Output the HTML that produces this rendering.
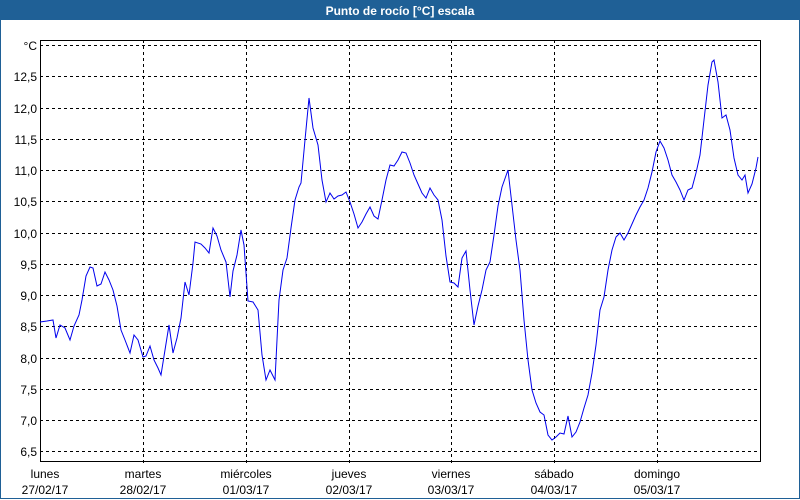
<!DOCTYPE html>
<html><head><meta charset="utf-8"><style>
html,body{margin:0;padding:0;background:#fff}
svg{display:block}
text{font-family:"Liberation Sans","DejaVu Sans",sans-serif;font-size:12px;fill:#000}
</style></head><body>
<svg width="800" height="500" viewBox="0 0 800 500">
<rect x="0" y="0" width="800" height="500" fill="#fff"/>
<rect x="0.5" y="0.5" width="799" height="498" fill="none" stroke="#1f6096" stroke-width="1"/>
<rect x="0" y="0" width="800" height="20" fill="#1f6096"/>
<text x="400" y="15" text-anchor="middle" style="fill:#fff;font-weight:bold;font-size:12px">Punto de rocío [°C] escala</text>
<g stroke="#000" stroke-dasharray="3,3" stroke-width="1">
<line x1="40" y1="45.5" x2="760" y2="45.5"/>
<line x1="40" y1="76.5" x2="760" y2="76.5"/>
<line x1="40" y1="108.5" x2="760" y2="108.5"/>
<line x1="40" y1="139.5" x2="760" y2="139.5"/>
<line x1="40" y1="170.5" x2="760" y2="170.5"/>
<line x1="40" y1="201.5" x2="760" y2="201.5"/>
<line x1="40" y1="233.5" x2="760" y2="233.5"/>
<line x1="40" y1="264.5" x2="760" y2="264.5"/>
<line x1="40" y1="295.5" x2="760" y2="295.5"/>
<line x1="40" y1="326.5" x2="760" y2="326.5"/>
<line x1="40" y1="358.5" x2="760" y2="358.5"/>
<line x1="40" y1="389.5" x2="760" y2="389.5"/>
<line x1="40" y1="420.5" x2="760" y2="420.5"/>
<line x1="40" y1="451.5" x2="760" y2="451.5"/>
<line x1="143.5" y1="40" x2="143.5" y2="466"/>
<line x1="246.5" y1="40" x2="246.5" y2="466"/>
<line x1="349.5" y1="40" x2="349.5" y2="466"/>
<line x1="451.5" y1="40" x2="451.5" y2="466"/>
<line x1="554.5" y1="40" x2="554.5" y2="466"/>
<line x1="657.5" y1="40" x2="657.5" y2="466"/>
</g>
<rect x="40.5" y="40.5" width="720" height="421" fill="none" stroke="#000"/>
<g text-anchor="end">
<text x="37" y="50">°C</text>
<text x="37" y="81">12,5</text>
<text x="37" y="113">12,0</text>
<text x="37" y="144">11,5</text>
<text x="37" y="175">11,0</text>
<text x="37" y="206">10,5</text>
<text x="37" y="238">10,0</text>
<text x="37" y="269">9,5</text>
<text x="37" y="300">9,0</text>
<text x="37" y="331">8,5</text>
<text x="37" y="363">8,0</text>
<text x="37" y="394">7,5</text>
<text x="37" y="425">7,0</text>
<text x="37" y="456">6,5</text>
</g>
<g text-anchor="middle">
<text x="45" y="478">lunes</text><text x="45" y="494">27/02/17</text>
<text x="143" y="478">martes</text><text x="143" y="494">28/02/17</text>
<text x="246" y="478">miércoles</text><text x="246" y="494">01/03/17</text>
<text x="349" y="478">jueves</text><text x="349" y="494">02/03/17</text>
<text x="451" y="478">viernes</text><text x="451" y="494">03/03/17</text>
<text x="554" y="478">sábado</text><text x="554" y="494">04/03/17</text>
<text x="657" y="478">domingo</text><text x="657" y="494">05/03/17</text>
</g>
<polyline fill="none" stroke="#0000ee" stroke-width="1" points="40,322 47,321 53,320 56,338 60,325 65,328 70,340 74,326 79,315 82,300 86,276 90,267 93,268 97,286 101,284 105,272 109,280 113,290 117,306 121,330 125,340 130,353 134,335 138,340 143,357 146,356 150,346 154,360 158,368 161,375 165,350 169,325 173,353 177,338 181,318 185,282 189,295 193,263 195,242 201,244 205,248 209,253 213,228 217,236 221,250 226,262 230,297 233,271 237,255 241,230 244,245 248,301 253,302 258,310 262,355 266,380 270,370 275,380 279,300 283,270 287,258 291,228 295,200 299,187 301,183 305,140 309,98 313,128 318,145 322,180 326,202 330,193 334,199 338,196 342,195 346,192 350,202 354,214 358,228 362,222 366,214 370,207 374,216 378,219 382,200 386,180 390,165 394,166 398,160 402,152 406,153 410,163 414,175 418,184 422,193 426,198 430,188 434,195 438,200 442,220 446,256 450,282 454,283 458,287 462,258 466,251 470,290 474,325 478,306 482,290 486,270 490,262 494,235 498,206 502,187 508,170 512,205 516,240 520,270 524,320 528,360 532,390 536,403 540,412 544,415 548,435 552,440 556,437 560,433 564,434 568,416 572,437 576,432 580,422 584,408 588,395 592,373 596,345 600,310 604,297 608,270 612,250 616,237 620,233 624,240 628,233 632,224 636,215 640,207 644,200 648,188 652,172 656,152 660,141 664,148 668,160 672,175 676,182 680,190 684,200 688,190 692,188 696,173 700,155 704,120 708,85 712,62 714,60 718,82 722,118 726,115 730,130 734,158 738,175 742,180 745,175 748,193 752,184 756,168 758,157"/>
</svg>
</body></html>
